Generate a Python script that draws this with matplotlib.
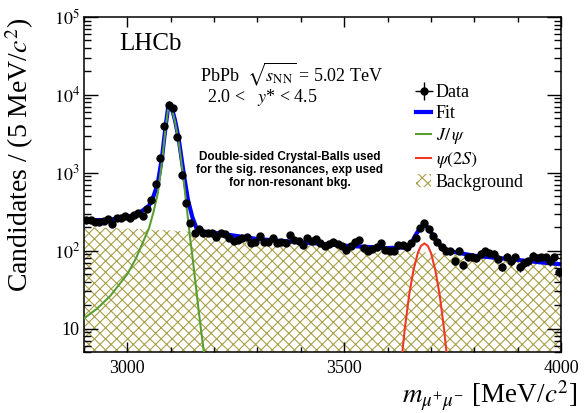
import numpy as np
import matplotlib
matplotlib.use("Agg")
import matplotlib.pyplot as plt
from matplotlib.ticker import FixedLocator, FixedFormatter, MultipleLocator, LogLocator, NullFormatter
from matplotlib.patches import Patch
from matplotlib.lines import Line2D

plt.rcParams['font.family'] = ['Liberation Serif', 'DejaVu Serif']
plt.rcParams['mathtext.fontset'] = 'stix'
plt.rcParams['hatch.linewidth'] = 0.8

# data points, 10 MeV bins
mass = np.arange(2905, 4000, 10)
counts = [248, 248, 234, 236, 238, 258, 221, 264, 264, 282,
          266, 285, 308, 280, 340, 450, 713, 1528, 4030, 7350,
          6870, 2870, 931, 406, 229, 168, 192, 168, 169, 169,
          151, 168, 164, 147, 133, 136, 145, 151, 125, 131,
          154, 131, 131, 147, 127, 129, 127, 161, 136, 133,
          118, 145, 134, 141, 127, 116, 121, 131, 121, 116,
          101, 116, 131, 136, 108, 100, 105, 111, 127, 103,
          100, 100, 118, 118, 111, 124, 146, 196, 225, 190,
          156, 128, 110, 100, 98, 74, 100, 66, 82, 84,
          81, 91, 98, 92, 91, 78, 62, 84, 73, 82,
          61, 69, 73, 86, 81, 82, 82, 73, 82, 53]

# total fit
fit_m = [2900, 2950, 3000, 3030, 3050, 3060, 3070, 3080, 3085, 3090, 3094, 3097,
         3100, 3105, 3110, 3115, 3120, 3130, 3140, 3150, 3160, 3175, 3200, 3250,
         3300, 3350, 3400, 3450, 3500, 3550, 3600, 3640, 3655, 3665, 3675, 3685,
         3695, 3705, 3715, 3730, 3750, 3800, 3850, 3900, 3950, 4000]
fit_v = [250, 245, 270, 311, 379, 495, 721, 1590, 2800, 4700, 6900, 7700,
         7400, 6000, 4700, 3400, 2360, 970, 440, 268, 190, 176, 170, 155,
         141, 134, 128, 122, 116, 112, 108, 110, 125, 160, 195, 215,
         195, 155, 125, 106, 97, 86, 81, 76, 71, 67]

# J/psi component
jpsi_m = [2900, 2930, 2960, 3000, 3020, 3040, 3050, 3060, 3070, 3080, 3085, 3090,
          3094, 3097, 3100, 3105, 3110, 3120, 3130, 3135, 3140, 3145, 3150, 3155,
          3160, 3165, 3170, 3175, 3180]
jpsi_v = [13.5, 18, 26, 50, 80, 145, 195, 310, 540, 1400, 2600, 4500,
          6700, 7500, 7200, 5800, 4500, 2170, 790, 440, 250, 140, 85, 48,
          28, 16, 9.5, 5.8, 3.5]

# psi(2S) component
psi2s_m = [3630, 3640, 3650, 3660, 3670, 3677, 3685, 3693, 3700, 3710, 3720, 3730, 3740]
psi2s_v = [3.0, 10.2, 27.4, 57, 94, 115, 124, 115, 94, 57, 27.4, 10.2, 3.0]

# background (hatched)
bkg_m = [2900, 3000, 3100, 3200, 3300, 3400, 3500, 3600, 3700, 3800, 3900, 4000]
bkg_v = [200, 192, 182, 165, 138, 122, 112, 103, 94, 84, 74, 66]

olive = '#a89f48'
blue = '#0000ff'
green = '#5a9e32'
red = '#ec3a24'

fig = plt.figure(figsize=(5.84, 4.13), dpi=100)
ax = fig.add_axes([84/584, 61/413, 477/584, 335/413])

ax.fill_between(bkg_m, bkg_v, 1e-3, facecolor='none', edgecolor=olive,
                hatch='xxx', linewidth=0, zorder=1)
ax.plot(fit_m, fit_v, color=blue, lw=3, zorder=2)
ax.plot(jpsi_m, jpsi_v, color=green, lw=1.5, zorder=3)
ax.plot(psi2s_m, psi2s_v, color=red, lw=1.5, zorder=3)
ax.errorbar(mass, counts, yerr=np.sqrt(counts), xerr=5, fmt='o', color='black',
            ms=5, elinewidth=1, capsize=0, zorder=4)

ax.set_yscale('log')
ax.set_xlim(2900, 4000)
ax.set_ylim(5, 1e5)

ax.xaxis.set_major_locator(FixedLocator([3000, 3500, 4000]))
ax.xaxis.set_minor_locator(MultipleLocator(100))
ax.yaxis.set_major_locator(FixedLocator([10, 100, 1e3, 1e4, 1e5]))
ax.yaxis.set_major_formatter(FixedFormatter(['10', '$10^{2}$', '$10^{3}$', '$10^{4}$', '$10^{5}$']))
ax.yaxis.set_minor_locator(LogLocator(base=10, subs=np.arange(2, 10)))
ax.yaxis.set_minor_formatter(NullFormatter())

ax.tick_params(axis='both', which='both', direction='in', top=True, right=True,
               labelsize=13, width=1)
ax.tick_params(axis='y', which='major', length=10, pad=3)
ax.tick_params(axis='y', which='minor', length=5)
ax.tick_params(axis='x', which='major', length=7, pad=6)
ax.tick_params(axis='x', which='minor', length=3.6)
for s in ax.spines.values():
    s.set_linewidth(1.1)

ax.set_ylabel('Candidates / (5 MeV/$c^{2}$)', fontsize=20, loc='top')
ax.yaxis.set_label_coords(-0.1, 1.0)
fig.text(578/584, 10/413, r'$m_{\mu^{+}\mu^{-}}$ [MeV/$c^{2}$]', fontsize=19.5,
         ha='right', va='baseline')

fig.text(119/584, 1 - 50/413, 'LHCb', fontsize=18, va='baseline')
fig.text(200/584, 1 - 81/413, r'PbPb  $\sqrt{s_{\mathrm{NN}}}$ = 5.02 TeV', fontsize=13, va='baseline')
fig.text(207/584, 1 - 102/413, r'2.0 <   $y$* < 4.5', fontsize=13, va='baseline')
fig.text(290/584, 1 - 170/413,
         'Double-sided Crystal-Balls used\nfor the sig. resonances, exp used\nfor non-resonant bkg.',
         fontsize=8.5, fontweight='bold', family='Liberation Sans', ha='center', va='center',
         linespacing=1.1)

handles = [
    ax.errorbar([], [], yerr=[], xerr=[], fmt='o', color='black', ms=5, elinewidth=1),
    Line2D([], [], color=blue, lw=3),
    Line2D([], [], color=green, lw=1.5),
    Line2D([], [], color=red, lw=1.5),
    Patch(facecolor='none', edgecolor=olive, hatch='xxx', linewidth=0),
]
labels = ['Data', 'Fit', r'$J/\,\psi$', r'$\psi(2S)$', 'Background']
ax.legend(handles, labels, loc='upper left', bbox_to_anchor=(0.696, 0.80),
          frameon=False, fontsize=13, handlelength=0.85, handletextpad=0.25,
          labelspacing=0.22, borderpad=0, borderaxespad=0)

fig.savefig('out.png', dpi=100)
